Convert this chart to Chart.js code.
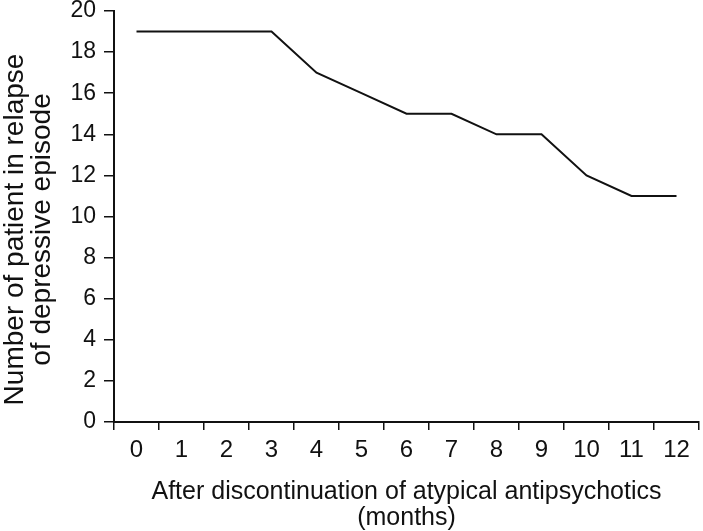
<!DOCTYPE html>
<html>
<head>
<meta charset="utf-8">
<script src="https://cdn.jsdelivr.net/npm/chart.js@4/dist/chart.umd.min.js"></script>
<style>
  html, body { margin: 0; padding: 0; background: #fff; }
  #relapseChart { display: block; }
</style>
</head>
<body>
<canvas id="relapseChart" width="703" height="531"></canvas>
<script>
// months after stopping the antipsychotic
const months = ['0', '1', '2', '3', '4', '5', '6', '7', '8', '9', '10', '11', '12'];
// patients still in relapse of a depressive episode
const relapseCount = [19, 19, 19, 19, 17, 16, 15, 15, 14, 14, 12, 11, 11];
const yTicks = [0, 2, 4, 6, 8, 10, 12, 14, 16, 18, 20];
const yTitleLines = ['Number of patient in relapse', 'of depressive episode'];

const ink = '#111';
const fontFamily = '"Liberation Sans", Arial, Helvetica, sans-serif';

// y title sits a little below the axis middle in the original, so draw it by hand
const yTitlePlugin = {
    id: 'yTitle',
    afterDraw(chart) {
        const c = chart.ctx;
        const area = chart.chartArea;
        const midY = (area.top + area.bottom) / 2 + 13;
        c.save();
        c.fillStyle = ink;
        c.font = '28px ' + fontFamily;
        c.textAlign = 'center';
        c.textBaseline = 'middle';
        yTitleLines.forEach((line, i) => {
            c.save();
            c.translate(15 + i * 27, midY);
            c.rotate(-Math.PI / 2);
            c.fillText(line, 0, 0);
            c.restore();
        });
        c.restore();
    }
};

const ctx = document.getElementById('relapseChart').getContext('2d');
const relapseChart = new Chart(ctx, {
    type: 'line',
    data: {
        labels: months,
        datasets: [
            {
                label: 'Relapse',
                data: relapseCount,
                borderColor: ink,
                borderWidth: 2,
                pointRadius: 0,
                tension: 0,
                fill: false
            }
        ]
    },
    plugins: [yTitlePlugin],
    options: {
        responsive: false,
        animation: false,
        devicePixelRatio: 1,
        layout: {
            padding: { top: 11, right: 4, left: 0, bottom: 0 }
        },
        plugins: {
            legend: { display: false },
            tooltip: { enabled: false }
        },
        scales: {
            x: {
                type: 'category',
                offset: true,
                grid: {
                    offset: true,
                    drawOnChartArea: false,
                    tickLength: 8,
                    color: ink,
                    lineWidth: 1.5
                },
                border: { display: true, color: ink, width: 2 },
                ticks: {
                    color: ink,
                    padding: 6,
                    maxRotation: 0,
                    autoSkip: false,
                    font: { family: fontFamily, size: 24 }
                },
                title: {
                    display: true,
                    text: ['After discontinuation of atypical antipsychotics', '(months)'],
                    color: ink,
                    font: { family: fontFamily, size: 25, lineHeight: 1.04 },
                    padding: { top: 0, bottom: 0 }
                },
                afterFit: (scale) => {
                    scale.height = 109;
                    scale.paddingLeft = 0;
                    scale.paddingRight = 0;
                }
            },
            y: {
                min: 0,
                max: 20,
                grid: {
                    drawOnChartArea: false,
                    tickLength: 10,
                    color: ink,
                    lineWidth: 1.5
                },
                border: { display: true, color: ink, width: 2 },
                afterBuildTicks: (scale) => {
                    scale.ticks = yTicks.map(v => ({ value: v }));
                },
                ticks: {
                    color: ink,
                    padding: 8,
                    font: { family: fontFamily, size: 23 }
                },
                title: { display: false },
                afterFit: (scale) => {
                    scale.width = 114;
                    scale.paddingTop = 0;
                    scale.paddingBottom = 0;
                }
            }
        }
    }
});
</script>
</body>
</html>
